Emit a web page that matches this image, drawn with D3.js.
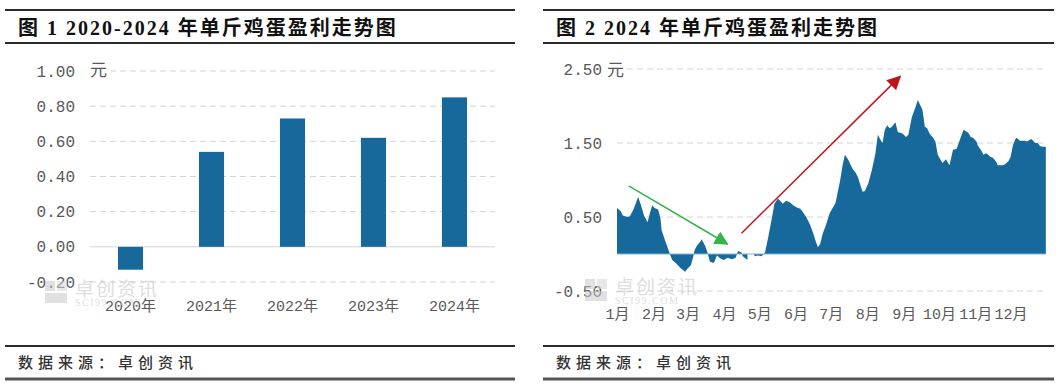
<!DOCTYPE html>
<html>
<head>
<meta charset="utf-8">
<script src="https://cdn.jsdelivr.net/npm/d3@7"></script>
<style>
  body { margin: 0; background: #fff; }
  svg { display: block; }
</style>
</head>
<body>
<svg width="1058" height="386"></svg>
<script>
// Figure 1: yearly profit per jin of eggs (yuan)
const years = ["2020年", "2021年", "2022年", "2023年", "2024年"];
const yearProfit = [-0.13, 0.54, 0.73, 0.62, 0.85];
const leftTicks = [-0.2, 0, 0.2, 0.4, 0.6, 0.8, 1.0];

// Figure 2: 2024 daily profit, day offset from Jan 1 -> value (null = gap)
const profitDays = [0,3,5,9,11,14,18,20,23,26,28,30,32,35,37,38,41,43,45,47,50,54,58,60,63,65,66,68,71,72,75,77,79,82,83,85,88,91,94,98,101,103,106,107,111,115,117,120,123,126,129,132,134,137,140,141,144,147,150,153,156,158,161,164,167,169,171,173,175,178,181,186,190,192,194,197,199,201,203,205,209,211,214,217,220,222,224,226,228,230,232,234,237,239,241,243,246,248,251,254,256,260,262,264,266,269,271,273,277,280,283,286,289,292,295,297,299,301,303,306,307,310,312,314,316,318,320,323,324,328,330,333,335,337,339,340,343,345,347,349,352,353,356,358,360,362,365];
const profitValues = [0.62,0.58,0.52,0.50,0.51,0.60,0.77,0.68,0.52,0.43,0.55,0.66,0.62,0.60,0.48,0.32,0.18,0.09,0.00,-0.08,-0.12,-0.19,-0.24,-0.20,-0.15,-0.03,0.05,0.11,0.17,0.20,0.11,0.02,-0.10,-0.12,-0.10,-0.02,-0.06,-0.08,-0.05,-0.07,-0.05,0.04,0.02,-0.03,-0.08,null,-0.03,-0.02,-0.03,0.02,0.25,0.50,0.68,0.75,0.70,0.68,0.72,0.70,0.66,0.63,0.61,0.57,0.50,0.41,0.28,0.18,0.09,0.14,0.27,0.40,0.55,0.69,1.00,1.20,1.34,1.27,1.20,1.14,1.10,1.04,0.84,0.85,0.96,1.14,1.36,1.61,1.55,1.50,1.68,1.74,1.70,1.72,1.78,1.65,1.64,1.63,1.58,1.61,1.85,1.98,2.08,1.95,1.72,1.70,1.63,1.57,1.52,1.34,1.23,1.28,1.20,1.41,1.42,1.55,1.68,1.66,1.64,1.58,1.57,1.52,1.47,1.40,1.34,1.36,1.34,1.31,1.30,1.24,1.20,1.20,1.21,1.25,1.31,1.47,1.55,1.57,1.53,1.53,1.53,1.52,1.55,1.55,1.50,1.50,1.46,1.45,1.45];
const rightTicks = [-0.5, 0.5, 1.5, 2.5];

// trend arrows (day offset, value)
const greenArrow = [[10, 0.92], [94, 0.135]];
const redArrow = [[106, 0.28], [241, 2.40]];

const BLUE = "#17699c";
const GRID = "#d4d4d4";
const TICK_TXT = "#595959";
const MONO = "'Liberation Mono', 'Noto Sans CJK SC', monospace";
const CJK = "'Noto Sans CJK SC', sans-serif";
const TITLE_FONT = "'Liberation Serif', 'Noto Sans CJK SC', serif";

const svg = d3.select("svg");
const fmt = v => d3.format(".2f")(v).replace("−", "-");

// frame: rules, titles, sources
function frame(x0, x1, title) {
  const g = svg.append("g");
  [10, 43, 346].forEach(y => {
    g.append("line").attr("x1", x0).attr("x2", x1).attr("y1", y).attr("y2", y)
      .attr("stroke", "#2b2b2b").attr("stroke-width", 2);
  });
  g.append("line").attr("x1", x0).attr("x2", x1).attr("y1", 379).attr("y2", 379)
    .attr("stroke", "#555").attr("stroke-width", 3);
  g.append("text").attr("x", x0 + 13).attr("y", 35)
    .attr("font-family", TITLE_FONT).attr("font-weight", "bold")
    .attr("font-size", 20).attr("letter-spacing", 2).attr("fill", "#111")
    .text(title);
  g.append("text").attr("x", x0 + 13).attr("y", 368)
    .attr("font-family", CJK).attr("font-weight", 500)
    .attr("font-size", 15).attr("letter-spacing", 5).attr("fill", "#333")
    .text("数据来源：卓创资讯");
}
frame(5, 515, "图 1 2020-2024 年单斤鸡蛋盈利走势图");
frame(543, 1054, "图 2 2024 年单斤鸡蛋盈利走势图");

function watermark(x, y) {
  const g = svg.append("g").attr("transform", `translate(${x},${y})`).attr("opacity", 0.55);
  g.append("rect").attr("x", 0).attr("y", 0).attr("width", 10).attr("height", 10).attr("fill", "#c9c9c9");
  g.append("rect").attr("x", 12).attr("y", 0).attr("width", 10).attr("height", 10).attr("fill", "#d6d6d6");
  g.append("rect").attr("x", 0).attr("y", 12).attr("width", 22).attr("height", 10).attr("fill", "#c9c9c9");
  g.append("text").attr("x", 30).attr("y", 15).attr("font-family", CJK)
    .attr("font-size", 19).attr("letter-spacing", 2).attr("fill", "#c4c4c4").text("卓创资讯");
  g.append("text").attr("x", 30).attr("y", 25).attr("font-family", "'Liberation Serif', serif")
    .attr("font-size", 10).attr("letter-spacing", 1.5).attr("fill", "#c4c4c4").text("SCI99.COM");
}

// ---------- left chart ----------
const xL = d3.scaleBand().domain(years).range([90, 495]).paddingInner(0.69).paddingOuter(0.345);
const yL = d3.scaleLinear().domain([-0.2, 1.0]).range([282, 71]);

const gL = svg.append("g");
gL.selectAll(".grid").data(leftTicks).enter().append("line")
  .attr("x1", 90).attr("x2", 495)
  .attr("y1", d => yL(d)).attr("y2", d => yL(d))
  .attr("stroke", GRID).attr("stroke-width", 1)
  .attr("stroke-dasharray", d => d === 0 ? null : "6,4");

watermark(45, 281);

gL.selectAll(".bar").data(yearProfit).enter().append("rect")
  .attr("x", (d, i) => xL(years[i]))
  .attr("width", xL.bandwidth())
  .attr("y", d => yL(Math.max(0, d)))
  .attr("height", d => Math.abs(yL(d) - yL(0)))
  .attr("fill", BLUE);

const axL = gL.append("g").attr("transform", "translate(75,0)")
  .call(d3.axisLeft(yL).tickValues(leftTicks).tickFormat(fmt).tickSize(0).tickPadding(0));
axL.select(".domain").remove();
axL.selectAll("text").attr("font-family", MONO).attr("font-size", 16).attr("fill", TICK_TXT);

const axLx = gL.append("g").attr("transform", "translate(0,300)")
  .call(d3.axisBottom(xL).tickSize(0).tickPadding(0));
axLx.select(".domain").remove();
axLx.selectAll("text").attr("font-family", MONO).attr("font-size", 15).attr("fill", TICK_TXT);

gL.append("rect").attr("x", 89).attr("y", 62).attr("width", 22).attr("height", 16).attr("fill", "#fff");
gL.append("text").attr("x", 90).attr("y", 76).attr("font-family", CJK)
  .attr("font-size", 17).attr("fill", TICK_TXT).text("元");

// ---------- right chart ----------
const start = new Date(2024, 0, 1);
const series = profitDays.map((d, i) => ({ date: d3.timeDay.offset(start, d), v: profitValues[i] }));
const xR = d3.scaleTime().domain([start, new Date(2025, 0, 1)]).range([617, 1047]);
const yR = d3.scaleLinear().domain([-0.5, 2.5]).range([291, 69]);

const gR = svg.append("g");
gR.selectAll(".grid").data(rightTicks).enter().append("line")
  .attr("x1", 617).attr("x2", 1047)
  .attr("y1", d => yR(d)).attr("y2", d => yR(d))
  .attr("stroke", GRID).attr("stroke-width", 1).attr("stroke-dasharray", "6,4");

watermark(585, 279);

const area = d3.area()
  .defined(d => d.v != null)
  .x(d => xR(d.date))
  .y0(yR(0))
  .y1(d => yR(d.v));
gR.append("path").datum(series).attr("d", area).attr("fill", BLUE);

gR.append("line").attr("x1", xR(start)).attr("x2", xR(d3.timeDay.offset(start, 365)))
  .attr("y1", yR(0)).attr("y2", yR(0)).attr("stroke", "#7fb6d6").attr("stroke-width", 1);

const axR = gR.append("g").attr("transform", "translate(602,0)")
  .call(d3.axisLeft(yR).tickValues(rightTicks).tickFormat(fmt).tickSize(0).tickPadding(0));
axR.select(".domain").remove();
axR.selectAll("text").attr("font-family", MONO).attr("font-size", 16).attr("fill", TICK_TXT);

const axRx = gR.append("g").attr("transform", "translate(0,308)")
  .call(d3.axisBottom(xR).ticks(d3.timeMonth.every(1))
    .tickFormat(d => (d.getMonth() + 1) + "月").tickSize(0).tickPadding(0));
axRx.select(".domain").remove();
axRx.selectAll("text").attr("font-family", MONO).attr("font-size", 15).attr("fill", TICK_TXT)
  .filter(d => d.getFullYear() > 2024).remove();

gR.append("rect").attr("x", 606).attr("y", 60).attr("width", 21).attr("height", 17).attr("fill", "#fff");
gR.append("text").attr("x", 607).attr("y", 76).attr("font-family", CJK)
  .attr("font-size", 17).attr("fill", TICK_TXT).text("元");

// arrows
const defs = svg.append("defs");
function arrow(id, color, pts) {
  defs.append("marker").attr("id", id).attr("viewBox", "0 0 10 10")
    .attr("refX", 9).attr("refY", 5).attr("markerWidth", 8).attr("markerHeight", 8)
    .attr("markerUnits", "userSpaceOnUse").attr("orient", "auto")
    .append("path").attr("d", "M0,0L10,5L0,10Z").attr("fill", color);
  defs.select("#" + id).attr("markerWidth", 14).attr("markerHeight", 14);
  gR.append("line")
    .attr("x1", xR(d3.timeDay.offset(start, pts[0][0]))).attr("y1", yR(pts[0][1]))
    .attr("x2", xR(d3.timeDay.offset(start, pts[1][0]))).attr("y2", yR(pts[1][1]))
    .attr("stroke", color).attr("stroke-width", 1.5)
    .attr("marker-end", `url(#${id})`);
}
arrow("ag", "#35b34a", greenArrow);
arrow("ar", "#c0141c", redArrow);
</script>
</body>
</html>
